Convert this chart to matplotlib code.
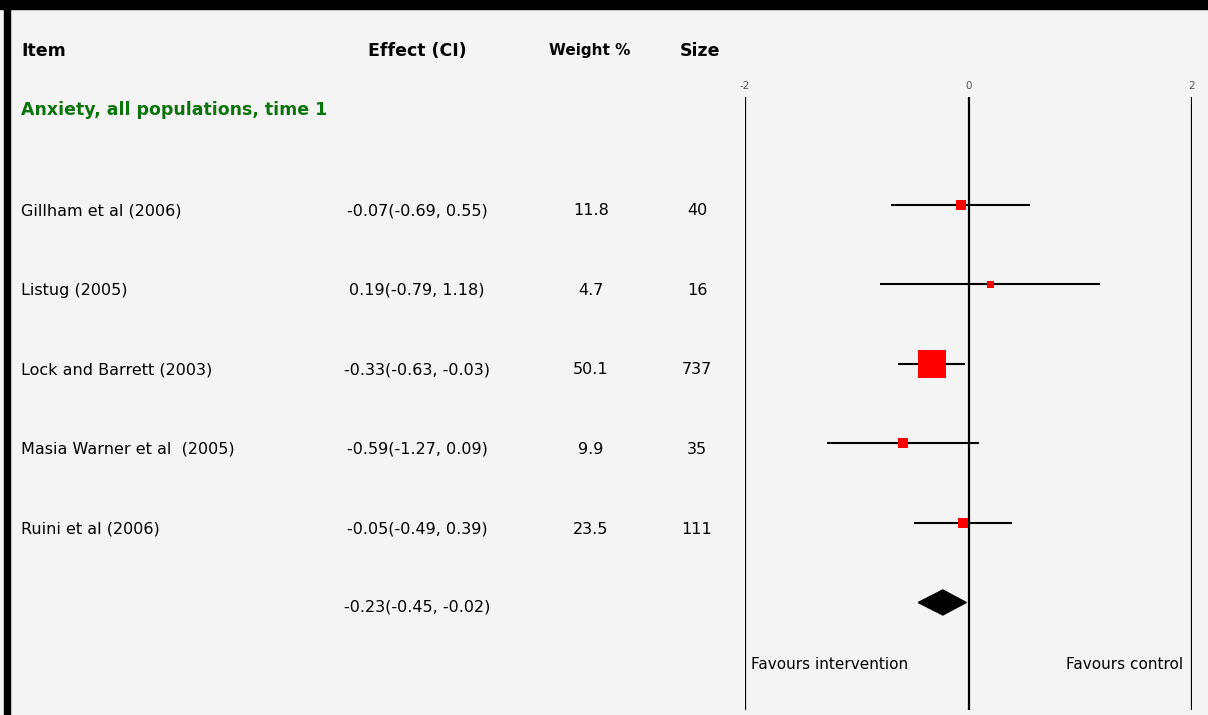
import matplotlib
matplotlib.use("Agg")
import matplotlib.pyplot as plt
import matplotlib.transforms as mtransforms
from matplotlib.patches import Rectangle, Polygon

# ---- data ----
studies = ["Gillham et al (2006)", "Listug (2005)", "Lock and Barrett (2003)",
           "Masia Warner et al  (2005)", "Ruini et al (2006)"]
effects = [-0.07, 0.19, -0.33, -0.59, -0.05]
ci_low = [-0.69, -0.79, -0.63, -1.27, -0.49]
ci_high = [0.55, 1.18, -0.03, 0.09, 0.39]
weights = ["11.8", "4.7", "50.1", "9.9", "23.5"]
sizes = ["40", "16", "737", "35", "111"]
pooled = -0.23
pooled_low = -0.45
pooled_high = -0.02
ticks = [-2, 0, 2]
title = "Anxiety, all populations, time 1"
headers = ["Item", "Effect (CI)", "Weight %", "Size"]
left_label = "Favours intervention"
right_label = "Favours control"

# ---- styles ----
box_px = [10, 7, 28, 10, 10]
W, H = 1208, 715
BG = "#f4f4f4"
GREEN = "#0b730b"
FS = 11.5

fig = plt.figure(figsize=(W / 100, H / 100), dpi=100, facecolor=BG)

# forest axes: x from -2..2 at px 745..1192, full height
x0, x1 = 745, 1192
ax = fig.add_axes([x0 / W, 0, (x1 - x0) / W, 1])
ax.set_facecolor("none")
ax.set_xlim(-2, 2)
row0_px, row_step = 205, 79.5
ax.set_ylim((H - row0_px) / row_step, -row0_px / row_step)
ax.axis("off")


def fx(px):
    return px / W


def ry(px):
    return (px - row0_px) / row_step


trans = mtransforms.blended_transform_factory(fig.transFigure, ax.transData)

# vertical reference lines
for t in ticks:
    ax.plot([t, t], [ry(97), ry(710)], color="black", lw=1.6, solid_capstyle="butt")
    ax.text(t, ry(86), str(t), ha="center", va="center",
            fontsize=7.5, color="#555555")

# studies
for i, (e, lo, hi) in enumerate(zip(effects, ci_low, ci_high)):
    ax.plot([lo, hi], [i, i], color="black", lw=1.5, solid_capstyle="butt", zorder=2)
    ax.plot([e], [i], marker="s", ms=box_px[i] * 0.72, color="#ff0000",
            mec="#ff0000", mew=0, zorder=3)
    ty = i + 6 / row_step
    ax.text(fx(21), ty, studies[i], transform=trans, ha="left", va="center",
            fontsize=FS, clip_on=False)
    ax.text(fx(417), ty, f"{e:.2f}({lo:.2f}, {hi:.2f})", transform=trans,
            ha="center", va="center", fontsize=FS, clip_on=False)
    ax.text(fx(591), ty, weights[i], transform=trans, ha="center", va="center",
            fontsize=FS, clip_on=False)
    ax.text(fx(697), ty, sizes[i], transform=trans, ha="center", va="center",
            fontsize=FS, clip_on=False)

# pooled diamond
yp = len(effects)
hh = 12.5 / row_step
ax.add_patch(Polygon([[pooled_low, yp], [pooled, yp - hh], [pooled_high, yp],
                      [pooled, yp + hh]], closed=True, color="black", zorder=3))
ax.text(fx(417), yp + 4 / row_step,
        f"{pooled:.2f}({pooled_low:.2f}, {pooled_high:.2f})", transform=trans,
        ha="center", va="center", fontsize=FS, clip_on=False)

# favours labels
ax.text(fx(751), ry(665), left_label, transform=trans, ha="left", va="center",
        fontsize=11, clip_on=False)
ax.text(fx(1183), ry(665), right_label, transform=trans, ha="right", va="center",
        fontsize=11, clip_on=False)

# headers
hy = ry(51)
ax.text(fx(21), hy, headers[0], transform=trans, ha="left", va="center",
        fontsize=12.5, fontweight="bold", clip_on=False)
ax.text(fx(417), hy, headers[1], transform=trans, ha="center", va="center",
        fontsize=12.5, fontweight="bold", clip_on=False)
ax.text(fx(590), hy, headers[2], transform=trans, ha="center", va="center",
        fontsize=11, fontweight="bold", clip_on=False)
ax.text(fx(700), hy, headers[3], transform=trans, ha="center", va="center",
        fontsize=12.5, fontweight="bold", clip_on=False)
ax.text(fx(21), ry(110), title, transform=trans, ha="left",
        va="center", fontsize=12.5, fontweight="bold", color=GREEN, clip_on=False)

# frame borders (top and left)
fig.patches.append(Rectangle((0, 1 - 9 / H), 1, 9 / H, transform=fig.transFigure,
                             color="black", zorder=10))
fig.patches.append(Rectangle((4 / W, 0), 6 / W, 1, transform=fig.transFigure,
                             color="black", zorder=10))

fig.savefig("out.png", dpi=100, facecolor=BG)
